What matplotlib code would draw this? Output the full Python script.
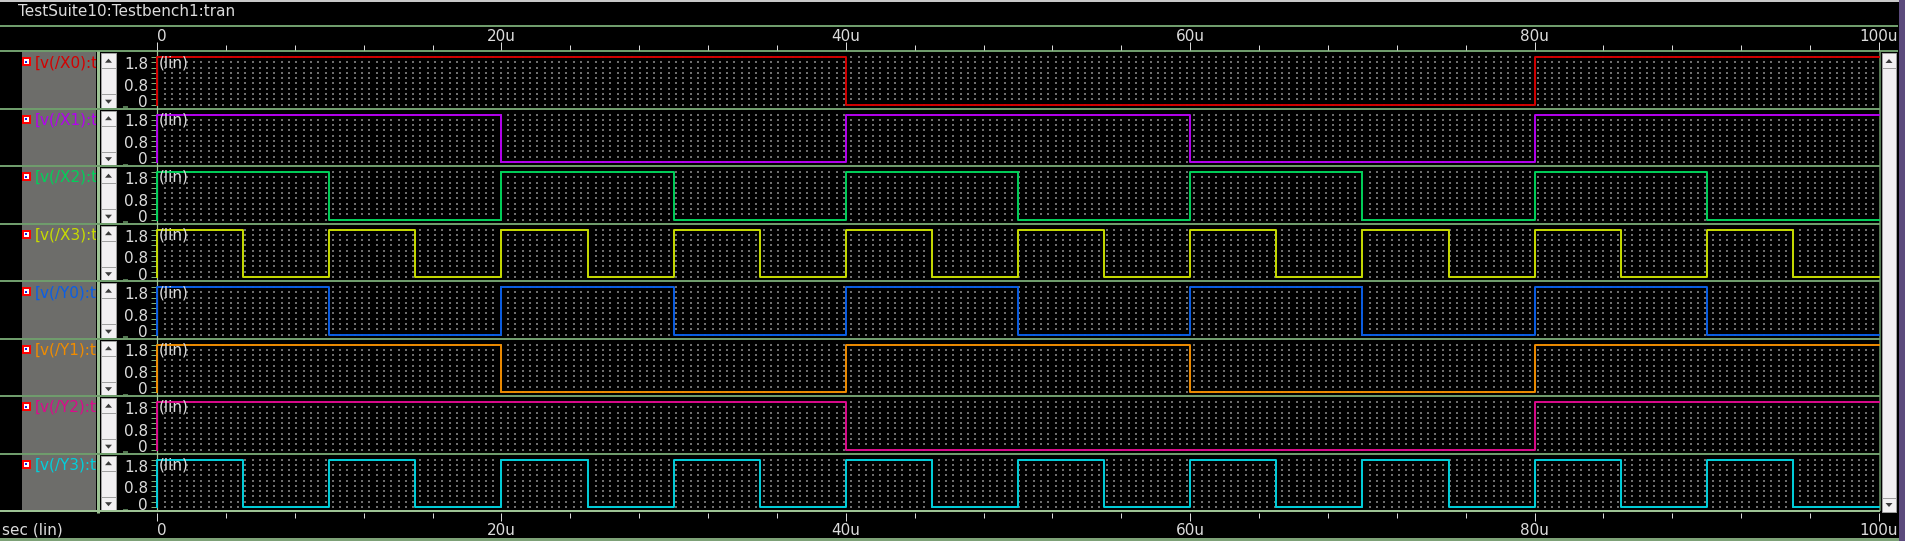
import numpy as np
import matplotlib
matplotlib.use("Agg")
import matplotlib.pyplot as plt
import matplotlib.transforms as mtransforms
from matplotlib.patches import Rectangle, Polygon
from matplotlib.ticker import MultipleLocator

W, H, DPI = 1906, 541, 100

# ---------------- data ----------------
title = "TestSuite10:Testbench1:tran"
signal_names = ["X0", "X1", "X2", "X3", "Y0", "Y1", "Y2", "Y3"]
signal_colors = ["#d40000", "#b400f0", "#00d25a", "#c8dc00",
                 "#0a5ee6", "#f08c00", "#dc0a8c", "#00d0dc"]

# step times (us) and the level (V) held from each time
t_X0 = [0, 40, 80, 100]
v_X0 = [1.8, 0, 1.8, 1.8]
t_X1 = [0, 20, 40, 60, 80, 100]
v_X1 = [1.8, 0, 1.8, 0, 1.8, 1.8]
t_X2 = [0, 10, 20, 30, 40, 50, 60, 70, 80, 90, 100]
v_X2 = [1.8, 0, 1.8, 0, 1.8, 0, 1.8, 0, 1.8, 0, 0]
t_X3 = [0, 5, 10, 15, 20, 25, 30, 35, 40, 45, 50, 55, 60, 65, 70, 75, 80, 85, 90, 95, 100]
v_X3 = [1.8, 0, 1.8, 0, 1.8, 0, 1.8, 0, 1.8, 0, 1.8, 0, 1.8, 0, 1.8, 0, 1.8, 0, 1.8, 0, 0]
t_Y0 = [0, 10, 20, 30, 40, 50, 60, 70, 80, 90, 100]
v_Y0 = [1.8, 0, 1.8, 0, 1.8, 0, 1.8, 0, 1.8, 0, 0]
t_Y1 = [0, 20, 40, 60, 80, 100]
v_Y1 = [1.8, 0, 1.8, 0, 1.8, 1.8]
t_Y2 = [0, 40, 80, 100]
v_Y2 = [1.8, 0, 1.8, 1.8]
t_Y3 = [0, 5, 10, 15, 20, 25, 30, 35, 40, 45, 50, 55, 60, 65, 70, 75, 80, 85, 90, 95, 100]
v_Y3 = [1.8, 0, 1.8, 0, 1.8, 0, 1.8, 0, 1.8, 0, 1.8, 0, 1.8, 0, 1.8, 0, 1.8, 0, 1.8, 0, 0]

signal_times = [t_X0, t_X1, t_X2, t_X3, t_Y0, t_Y1, t_Y2, t_Y3]
signal_values = [v_X0, v_X1, v_X2, v_X3, v_Y0, v_Y1, v_Y2, v_Y3]

time_ticks = [0, 20, 40, 60, 80, 100]
time_labels = ["0", "20u", "40u", "60u", "80u", "100u"]
ytick_vals = [1.8, 0.8, 0]
ytick_labels = ["1.8", "0.8", "0"]

# ---------------- style ----------------
GREEN = "#6f9c6c"
PALE = "#9dc394"
TXT = "#dcdcdc"
FS = 11
PX = 72.0 / DPI  # points per pixel

fig = plt.figure(figsize=(W / DPI, H / DPI), dpi=DPI, facecolor="black")
bg = fig.add_axes([0, 0, 1, 1])
bg.set_xlim(0, W)
bg.set_ylim(H, 0)
bg.axis("off")
bg.set_zorder(0)


def add_px_axes(x0, y0, x1, y1):
    return fig.add_axes([x0 / W, 1 - y1 / H, (x1 - x0) / W, (y1 - y0) / H])


def hline(y, x0, x1, color=GREEN, lw=2):
    bg.plot([x0, x1], [y, y], color=color, lw=lw * PX, solid_capstyle="butt")


def vline(x, y0, y1, color=GREEN, lw=2):
    bg.plot([x, x], [y0, y1], color=color, lw=lw * PX, solid_capstyle="butt")


def rect(x0, y0, x1, y1, fc, ec="none", lw=0):
    bg.add_patch(Rectangle((x0, y0), x1 - x0, y1 - y0, facecolor=fc,
                           edgecolor=ec, linewidth=lw * PX))


def tri(cx, cy, up=True, w=7, h=4, color="#3c3c3c"):
    if up:
        pts = [(cx - w / 2, cy + h / 2), (cx + w / 2, cy + h / 2), (cx, cy - h / 2)]
    else:
        pts = [(cx - w / 2, cy - h / 2), (cx + w / 2, cy - h / 2), (cx, cy + h / 2)]
    bg.add_patch(Polygon(pts, closed=True, facecolor=color, edgecolor="none"))


PX0, PX1 = 157, 1879
TOP0, PH = 51, 57.5
NP = len(signal_names)
BOT = TOP0 + NP * PH

# header
rect(0, 0, 1899, 1.5, "#c8c8c8")
bg.text(18, 11.5, title, color=TXT, fontsize=FS, va="center", ha="left")
hline(26, 0, 1898)
hline(51, 0, 1898)

# left gray column
rect(22, 52, 96.5, BOT, "#6d6d6a")
vline(98, 51, BOT + 2, color=PALE, lw=3)

# right scrollbar and border
vline(1880.5, 51, BOT, color=GREEN, lw=1.5)
rect(1882, 53, 1896, BOT + 1, "#f2f0f2", ec="#a0a0a0", lw=1)
hline(68, 1882, 1896, color="#a0a0a0", lw=1)
hline(BOT - 13, 1882, 1896, color="#a0a0a0", lw=1)
tri(1889, 61, up=True)
tri(1889, BOT - 6, up=False)
rect(1899, 0, W, H, "#5b4a7c")

# bottom line
rect(0, 538, 1899, H, "#7da277")

y_lo = -(PH - 53.5) / (47.5 / 1.8)
y_hi = 1.8 + 6 / (47.5 / 1.8)

dot_x = np.arange(0.46, 100, 0.424)
dot_y = np.arange(0, 1.81, 0.2)
DX, DY = np.meshgrid(dot_x, dot_y)

for i in range(NP):
    top = TOP0 + i * PH
    bot = top + PH
    col = signal_colors[i]
    # separators
    if i > 0:
        hline(top, 0, 1880)
    # left scrollbar
    rect(101, top + 2.3, 116, bot - 0.5, "#f2f0f2", ec="#a0a0a0", lw=1)
    hline(top + 17.3, 101, 116, color="#a0a0a0", lw=1)
    hline(top + 43.3, 101, 116, color="#a0a0a0", lw=1)
    tri(108.5, top + 9.7, up=True)
    tri(108.5, top + 50.7, up=False)
    # small dash
    hline(top + 56, 123, 128, color=GREEN, lw=1.5)
    # icon
    rect(22, top + 6, 31, top + 15, "#ff0000")
    rect(24, top + 8, 29, top + 13, "#ffffff")
    rect(25.5, top + 9.5, 27.5, top + 11.5, "#1020e0")
    # label (cut off by the gray column)
    clip = Rectangle((31, top), 65.5, PH, transform=bg.transData,
                     facecolor="none", edgecolor="none")
    bg.add_patch(clip)
    t = bg.text(35, top + 11.5, "[v(/%s):t" % signal_names[i], color=col,
                fontsize=FS, va="center", ha="left", clip_on=True)
    t.set_clip_path(clip)

    ax = add_px_axes(PX0, top, PX1, bot)
    ax.set_facecolor("none")
    ax.set_xlim(0, 100)
    ax.set_ylim(y_lo, y_hi)
    for s in ["top", "right", "bottom"]:
        ax.spines[s].set_visible(False)
    ax.spines["left"].set_color(PALE)
    ax.spines["left"].set_linewidth(1.2 * PX)
    ax.set_xticks([])
    ax.set_yticks(np.arange(0, 1.81, 0.2))
    ax.tick_params(axis="y", direction="out", length=6 * PX, width=1 * PX,
                   color="#7fb07a", labelleft=False)
    ax.scatter(DX.ravel(), DY.ravel(), s=0.9, marker="s", color="#6e6e6e",
               linewidths=0, zorder=1)
    tt = [0] + list(signal_times[i])
    vv = [0] + list(signal_values[i])
    ax.plot(tt, vv, drawstyle="steps-post", color=col, lw=1.4, zorder=3,
            clip_on=False)
    ax.text(0.1, 1.8, "(lin)", color=TXT, fontsize=FS, ha="left", va="center",
            transform=mtransforms.offset_copy(ax.transData, fig=fig,
                                              x=0, y=-5.5 * PX, units="points"),
            zorder=4)
    offs = [-7.5, -3.0, 2.0]
    for v, lab, dy in zip(ytick_vals, ytick_labels, offs):
        ax.annotate(lab, xy=(0, v), xycoords=("axes fraction", "data"),
                    xytext=(-9, dy), textcoords="offset pixels", ha="right",
                    va="center", color=TXT, fontsize=FS, annotation_clip=False)

hline(BOT, 0, 1880, color=PALE, lw=2)

# top time axis
axt = add_px_axes(PX0, 27, PX1, 50)
axt.set_facecolor("none")
axt.set_xlim(0, 100)
axt.set_ylim(0, 1)
for s in axt.spines.values():
    s.set_visible(False)
axt.set_yticks([])
axt.set_xticks(time_ticks)
axt.xaxis.set_minor_locator(MultipleLocator(4))
axt.tick_params(axis="x", which="both", direction="in", bottom=True, top=False,
                labelbottom=False, color="#d8d8d8", width=1 * PX)
axt.tick_params(axis="x", which="major", length=8 * PX)
axt.tick_params(axis="x", which="minor", length=5 * PX)
for tv, lab in zip(time_ticks, time_labels):
    axt.text(tv, 0.6, lab, color=TXT, fontsize=FS, va="center",
             ha="left" if tv == 0 else "center")

# bottom time axis
axb = add_px_axes(PX0, 513, PX1, 537)
axb.set_facecolor("none")
axb.set_xlim(0, 100)
axb.set_ylim(0, 1)
for s in axb.spines.values():
    s.set_visible(False)
axb.set_yticks([])
axb.set_xticks(time_ticks)
axb.xaxis.set_minor_locator(MultipleLocator(4))
axb.tick_params(axis="x", which="both", direction="in", bottom=False, top=True,
                labelbottom=False, color="#d8d8d8", width=1 * PX)
axb.tick_params(axis="x", which="major", length=8 * PX)
axb.tick_params(axis="x", which="minor", length=5 * PX)
for tv, lab in zip(time_ticks, time_labels):
    axb.text(tv, 0.29, lab, color=TXT, fontsize=FS, va="center",
             ha="left" if tv == 0 else "center")
bg.text(2, 530, "sec (lin)", color=TXT, fontsize=FS, va="center", ha="left")

fig.savefig("out.png", dpi=DPI, facecolor="black")
